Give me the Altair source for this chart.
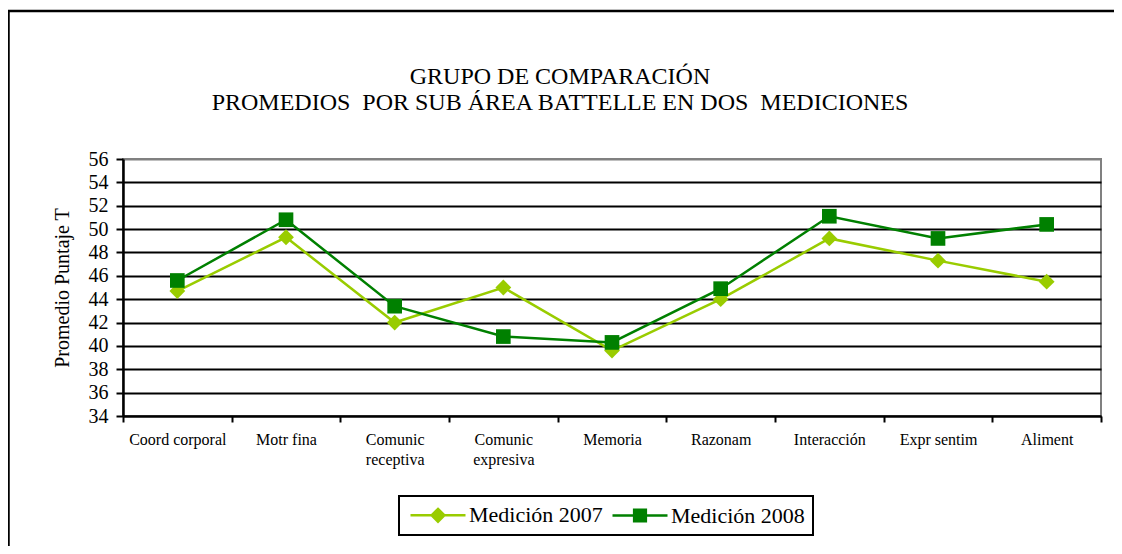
import altair as alt
import pandas as pd

categories = ["Coord corporal", "Motr fina", "Comunic receptiva", "Comunic expresiva",
              "Memoria", "Razonam", "Interacción", "Expr sentim", "Aliment"]
series_names = ["Medición 2007", "Medición 2008"]
values_2007 = [44.7, 49.3, 42.0, 45.0, 39.6, 44.0, 49.2, 47.3, 45.5]
values_2008 = [45.6, 50.8, 43.4, 40.8, 40.3, 44.9, 51.1, 49.2, 50.4]
y_ticks = list(range(34, 57, 2))
title_lines = ["GRUPO DE COMPARACIÓN",
               "PROMEDIOS\u00a0 POR SUB ÁREA BATTELLE EN DOS\u00a0 MEDICIONES"]

colors = ["#99CC00", "#008000"]
marker_shapes = ["diamond", "square"]
legend_shapes = [
    "M-3.667,0L3.667,0M0,-0.85L0.85,0L0,0.85L-0.85,0Z",
    "M-3.667,0L3.667,0M-0.78,-0.78L0.78,-0.78L0.78,0.78L-0.78,0.78Z",
]

rows = []
for c, a, b in zip(categories, values_2007, values_2008):
    rows.append({"cat": c, "serie": series_names[0], "valor": a})
    rows.append({"cat": c, "serie": series_names[1], "valor": b})
df = pd.DataFrame(rows)

# legend-only rows, placed below the y domain so their marks are clipped away
legend_df = pd.DataFrame({"cat": [categories[0]] * 2, "serie": series_names, "valor": [0, 0]})

FONT = "Liberation Serif"

x_enc = alt.X(
    "cat:N", sort=categories,
    scale=alt.Scale(type="band", paddingInner=0, paddingOuter=0),
    axis=alt.Axis(
        title=None, labelAngle=0, labelFont=FONT, labelFontSize=16, labelColor="black",
        labelPadding=9, labelLineHeight=20,
        labelExpr="indexof(datum.label, 'Comunic') == 0 ? split(datum.label, ' ') : datum.label",
        tickBand="extent", tickColor="black", tickWidth=2, tickSize=6,
        domainColor="black", domainWidth=2, grid=False,
    ),
)
y_enc = alt.Y(
    "valor:Q",
    scale=alt.Scale(domain=[34, 56], nice=False, zero=False),
    axis=alt.Axis(
        title="Promedio Puntaje T", titleFont=FONT, titleFontSize=20, titleFontWeight="normal",
        titleColor="black", titlePadding=16,
        values=y_ticks, labelFont=FONT, labelFontSize=20, labelColor="black", labelPadding=8,
        tickColor="black", tickWidth=2, tickSize=7,
        domainColor="black", domainWidth=2.5,
        grid=True, gridWidth=2,
        gridColor={"condition": {"test": "datum.value === 56", "value": "#808080"}, "value": "black"},
    ),
)
# colour domain comes from the data (sorted: 2007, 2008)
color_enc = alt.Color("serie:N", scale=alt.Scale(range=colors), legend=None)

one = pd.DataFrame({"b": [0]})
border_top = alt.Chart(one).mark_rule(color="black", strokeWidth=2.5).encode(
    x=alt.value(-116), x2=alt.value(1000), y=alt.value(-148))
border_left = alt.Chart(one).mark_rule(color="black", strokeWidth=2.5).encode(
    x=alt.value(-114.5), y=alt.value(-149), y2=alt.value(400))

lines = alt.Chart(df).mark_line(strokeWidth=2.5).encode(x=x_enc, y=y_enc, color=color_enc)

pts07 = alt.Chart(df).transform_filter(alt.datum.serie == series_names[0]).mark_point(
    shape=marker_shapes[0], filled=True, size=250, opacity=1, strokeWidth=0
).encode(x=x_enc, y=y_enc, color=color_enc)
pts08 = alt.Chart(df).transform_filter(alt.datum.serie == series_names[1]).mark_point(
    shape=marker_shapes[1], filled=True, size=215, opacity=1, strokeWidth=0
).encode(x=x_enc, y=y_enc, color=color_enc)

legend_layer = alt.Chart(legend_df).mark_point(opacity=1, clip=True).encode(
    x=x_enc, y=y_enc,
    fill=alt.Fill("serie:N", scale=alt.Scale(domain=series_names, range=colors),
                  legend=alt.Legend(
                      title=None, orient="none", legendX=276, legendY=337, direction="horizontal",
                      labelFont=FONT, labelFontSize=22, labelColor="black",
                      symbolSize=225, symbolOffset=20, labelOffset=20, symbolStrokeWidth=2.5,
                      columnPadding=4, padding=8, strokeColor="black",
                  )),
    stroke=alt.Stroke("serie:N", scale=alt.Scale(domain=series_names, range=colors)),
    shape=alt.Shape("serie:N", scale=alt.Scale(domain=series_names, range=legend_shapes)),
)

chart = alt.layer(border_top, border_left, lines, pts07, pts08, legend_layer).properties(
    width=978, height=257,
    title=alt.TitleParams(
        text=title_lines, font=FONT, fontSize=24, fontWeight="normal", color="black",
        anchor="middle", frame="group", dx=-52, dy=110, lineHeight=26,
    ),
    padding={"left": 115, "top": 151, "right": 13, "bottom": 130},
    autosize=alt.AutoSizeParams(type="none"),
).configure_view(stroke="#808080", strokeWidth=2).configure_legend(
    strokeWidth=2, labelFont=FONT
).configure_axis(labelFont=FONT, titleFont=FONT)

chart.save("out.html", embed_options={"renderer": "svg", "actions": False})
